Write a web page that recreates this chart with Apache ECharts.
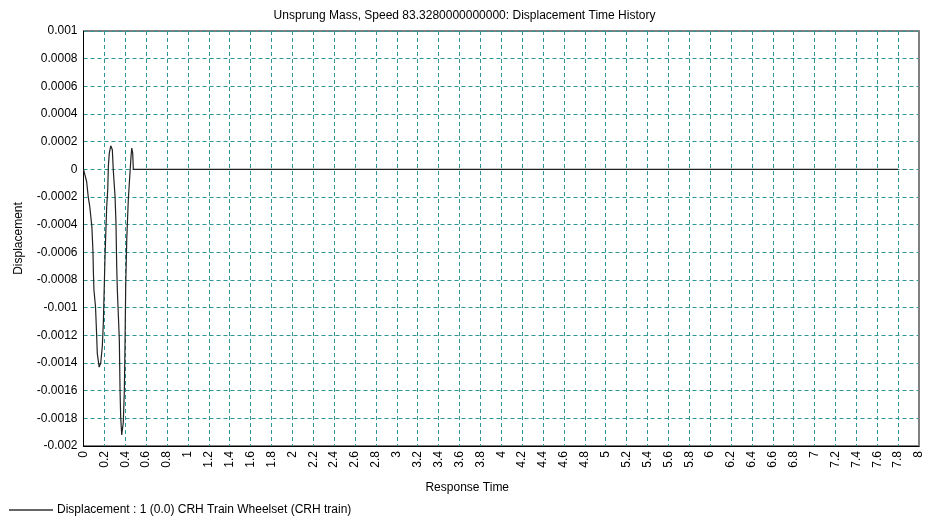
<!DOCTYPE html>
<html>
<head>
<meta charset="utf-8">
<script src="https://cdn.jsdelivr.net/npm/echarts@6/dist/echarts.min.js"></script>
<style>
html,body{margin:0;padding:0;background:#fff;}
#chart{width:929px;height:519px;}
</style>
</head>
<body>
<div id="chart"></div>
<script>
var titleText = 'Unsprung Mass, Speed 83.3280000000000: Displacement Time History';
var seriesName = 'Displacement : 1 (0.0) CRH Train Wheelset (CRH train)';
var xName = 'Response Time';
var yName = 'Displacement';

var times = [0, 0.03, 0.045, 0.06, 0.08, 0.09, 0.095, 0.10, 0.115, 0.125, 0.132, 0.15, 0.165, 0.18, 0.19, 0.196, 0.206, 0.222, 0.232, 0.238, 0.247, 0.261, 0.276, 0.285, 0.302, 0.311, 0.318, 0.324, 0.333, 0.343, 0.35, 0.356, 0.366, 0.381, 0.391, 0.397, 0.404, 0.414, 0.429, 0.445, 0.455, 0.462, 0.471, 0.477, 0.5, 7.8];
var disp = [0, -0.000088, -0.000197, -0.000269, -0.000414, -0.000582, -0.000749, -0.000872, -0.000993, -0.00118, -0.00133, -0.00143, -0.0014, -0.00128, -0.00111, -0.00093, -0.00063, -0.00027, -0.000148, 0.00002, 0.000117, 0.00017, 0.000141, -0.000004, -0.000197, -0.000389, -0.000703, -0.000872, -0.00104, -0.00123, -0.0016, -0.00179, -0.00192, -0.00183, -0.0016, -0.0013, -0.00085, -0.00051, -0.00022, -0.000025, 0.000093, 0.000153, 0.000119, 0, 0, 0];

var xMin = 0, xMax = 8, xStep = 0.2;
var yMin = -0.002, yMax = 0.001, yStep = 0.0002;

function fmt(v){ return String(parseFloat(Number(v).toPrecision(8))); }

var data = times.map(function(t,i){ return [t, disp[i]]; });
var font = 'Liberation Sans, Arial, sans-serif';
var gridLine = {show:true, lineStyle:{color:'#2f9595', type:[4,3], width:1}};

var chart = echarts.init(document.getElementById('chart'), null, {renderer:'canvas'});
chart.setOption({
  animation:false,
  backgroundColor:'#fff',
  textStyle:{fontFamily:font},
  title:{text:titleText, left:'center', top:5, textStyle:{fontFamily:font, fontSize:12, fontWeight:'normal', color:'#000'}},
  legend:{left:9, bottom:3, padding:0, icon:'rect', itemWidth:44, itemHeight:1.5, itemGap:10,
    itemStyle:{color:'#333'},
    textStyle:{fontFamily:font, fontSize:12, color:'#000', padding:[0,0,0,-1]},
    data:[seriesName]},
  grid:{left:83.5, right:10, top:31, bottom:73, show:true, borderColor:'#000', borderWidth:1},
  xAxis:{type:'value', min:xMin, max:xMax, interval:xStep,
    name:xName, nameLocation:'middle', nameGap:36,
    nameTextStyle:{fontFamily:font, fontSize:12, color:'#000', padding:[0,68,0,0]},
    axisLine:{show:true, onZero:false, lineStyle:{color:'#000'}},
    axisTick:{show:false},
    axisLabel:{rotate:90, fontFamily:font, fontSize:12, color:'#000', margin:5, formatter:fmt},
    splitLine:gridLine},
  yAxis:[{type:'value', min:yMin, max:yMax, interval:yStep,
    name:yName, nameLocation:'middle', nameGap:59,
    nameTextStyle:{fontFamily:font, fontSize:12, color:'#000'},
    axisLine:{show:true, lineStyle:{color:'#000'}},
    axisTick:{show:false},
    axisLabel:{fontFamily:font, fontSize:12, color:'#000', margin:6, formatter:fmt},
    splitLine:gridLine},
   {type:'value', position:'right', min:yMin, max:yMax, interval:yStep,
    axisLine:{show:true, lineStyle:{color:'#808080', width:2}},
    axisTick:{show:false}, axisLabel:{show:false}, splitLine:{show:false}}],
  series:[{name:seriesName, type:'line', data:data, showSymbol:false, symbol:'none',
    lineStyle:{color:'#222', width:1.2}, itemStyle:{color:'#222'}}]
});
</script>
</body>
</html>
